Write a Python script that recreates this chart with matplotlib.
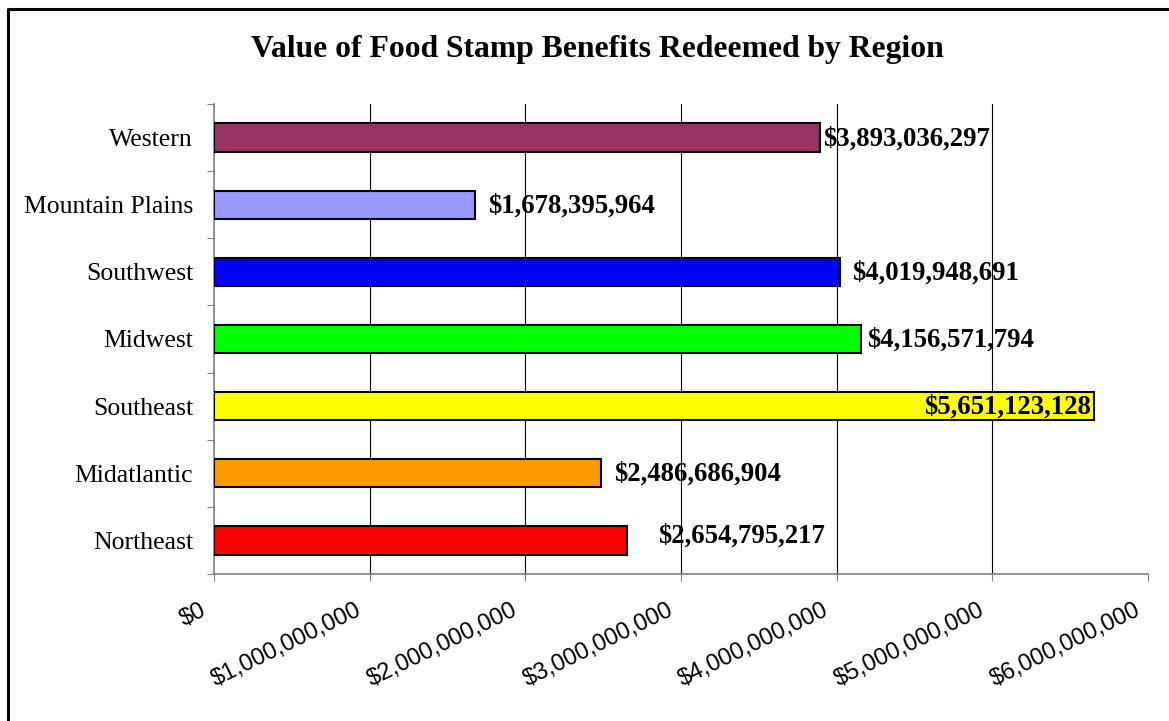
import matplotlib
matplotlib.use("Agg")
import matplotlib.pyplot as plt
import matplotlib.transforms as mtransforms
from matplotlib.lines import Line2D
from matplotlib.ticker import FuncFormatter, FixedLocator

# Regions listed bottom to top, as they appear on the chart
regions = ['Northeast', 'Midatlantic', 'Southeast', 'Midwest', 'Southwest',
           'Mountain Plains', 'Western']
redeemed = [2654795217, 2486686904, 5651123128, 4156571794, 4019948691,
            1678395964, 3893036297]
bar_colors = ['#FF0000', '#FF9900', '#FFFF00', '#00FF00', '#0000FF',
              '#9999FF', '#993366']

# label offsets from bar end (points) - Southeast sits inside its bar
label_dx = [22, 9, -2, 4, 9, 9, 2]
label_dy = [3, -1, -1, -1, -1, -1, -1]

serif = 'Liberation Serif'
sans = 'Liberation Sans'

fig = plt.figure(figsize=(11.69, 7.21), dpi=100)
ax = fig.add_axes([0.1831, 0.2039, 0.7990, 0.6519])

ypos = list(range(len(regions)))
ax.barh(ypos, redeemed, height=0.42, color=bar_colors,
        edgecolor='black', linewidth=1.5, zorder=3)

for y, v, dx, dy in zip(ypos, redeemed, label_dx, label_dy):
    ha = 'right' if dx < 0 else 'left'
    ax.annotate(f'${v:,.0f}', xy=(v, y), xytext=(dx, dy),
                textcoords='offset points', ha=ha, va='center',
                fontsize=19.3, fontweight='bold', family=serif, zorder=4)

ax.set_xlim(0, 6e9)
ax.set_ylim(-0.5, len(regions) - 0.5)

# x axis: dollars, rotated labels
ax.set_xticks([i * 1e9 for i in range(7)])
ax.xaxis.set_major_formatter(FuncFormatter(lambda x, p: f'${x:,.0f}'))
ax.tick_params(axis='x', length=5, width=0.8, color='#808080', pad=13,
               labelsize=17)
shift = mtransforms.ScaledTranslation(-0.14, 0, fig.dpi_scale_trans)
for lbl in ax.get_xticklabels():
    lbl.set_family(sans)
    lbl.set_rotation(26)
    lbl.set_ha('right')
    lbl.set_va('top')
    lbl.set_rotation_mode('anchor')
    lbl.set_transform(lbl.get_transform() + shift)

# y axis: names at centers, tick marks between categories
ax.set_yticks(ypos)
ax.set_yticklabels(regions, family=serif, fontsize=18.5)
ax.tick_params(axis='y', which='major', length=0, pad=15)
ax.yaxis.set_minor_locator(FixedLocator([i - 0.5 for i in range(len(regions) + 1)]))
ax.tick_params(axis='y', which='minor', length=5, width=0.8, color='#808080')

ax.xaxis.grid(True, color='black', linewidth=0.8, zorder=0)
ax.set_axisbelow(True)
gl = ax.get_xgridlines()
gl[0].set_visible(False)
gl[-1].set_visible(False)

for side in ['top', 'right']:
    ax.spines[side].set_visible(False)
for side in ['left', 'bottom']:
    ax.spines[side].set_color('#808080')
    ax.spines[side].set_linewidth(1.2)

fig.text(0.511, 0.931, 'Value of Food Stamp Benefits Redeemed by Region',
         ha='center', va='center', fontsize=22.8, fontweight='bold', family=serif)

# outer frame (open at right and bottom)
x0 = 8 / 1169
y1 = 1 - 9 / 721
fig.add_artist(Line2D([x0, x0, 1.0], [0.0, y1, y1], transform=fig.transFigure,
                      color='black', linewidth=2.2))

fig.savefig('out.png', dpi=100)
